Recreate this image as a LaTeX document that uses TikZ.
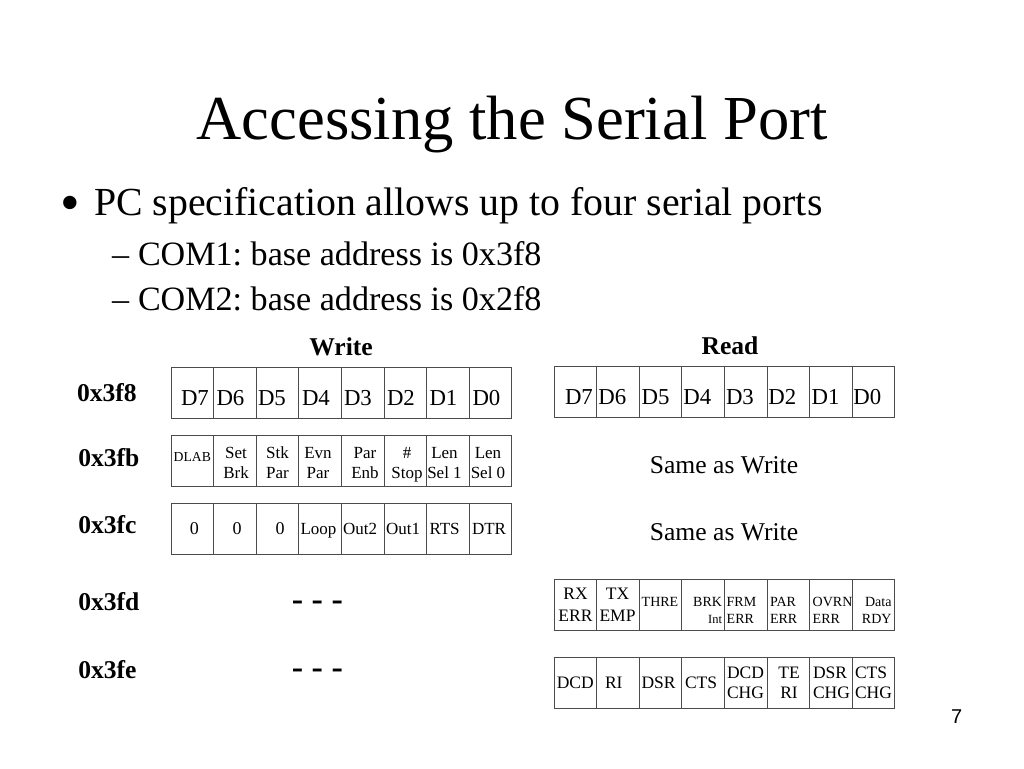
\documentclass[tikz,border=0pt]{standalone}
\usepackage{fontspec}
\setmainfont{Liberation Serif}
\newfontfamily\sansf{Liberation Sans}
\frenchspacing
\newcommand\TwoC[2]{\vtop{\halign{\hfil##\hfil\cr#1\cr#2\cr}}}
\newcommand\TwoL[2]{\vtop{\halign{##\hfil\cr#1\cr#2\cr}}}
\newcommand\TwoR[2]{\vtop{\halign{\hfil##\cr#1\cr#2\cr}}}
\begin{document}
\begin{tikzpicture}[x=1pt,y=-1pt,
  cell/.style={draw=black!70,line width=1pt,minimum width=42.6pt,minimum height=51pt,inner sep=0pt,outer sep=0pt,anchor=north west},
  txt/.style={inner sep=0pt,outer sep=0pt},
  title/.style={txt,anchor=base,font=\fontsize{62.6}{70}\selectfont},
  lvl1/.style={txt,anchor=base west,font=\fontsize{39.8}{44}\selectfont},
  lvl2/.style={txt,anchor=base west,font=\fontsize{34.1}{38}\selectfont},
  hdr/.style={txt,anchor=base,font=\fontsize{25.6}{30}\selectfont\bfseries},
  addr/.style={txt,anchor=base west,font=\fontsize{25.6}{30}\selectfont\bfseries},
  dots/.style={txt,anchor=base,font=\fontsize{34}{38}\selectfont\bfseries},
  same/.style={txt,anchor=base,font=\fontsize{25.6}{30}\selectfont},
  dbit/.style={txt,anchor=base west,font=\fontsize{22.8}{26}\selectfont},
  mid/.style={txt,font=\fontsize{17}{20}\selectfont},
  sml/.style={txt,font=\fontsize{14}{16.6}\selectfont},
]
\useasboundingbox[fill=white] (0,0) rectangle (1024,768);

% title and bullets
\node[title] (title) at (512,139) {Accessing the Serial Port};
\node[txt,anchor=base west,font=\fontsize{56}{60}\selectfont] (b1) at (60.5,221) {•};
\node[lvl1] (t1) at (94,215) {PC specification allows up to four serial ports};
\node[lvl2] (d2) at (112,265) {–};
\node[lvl2] (t2) at (138,265) {COM1: base address is 0x3f8};
\node[lvl2] (d3) at (112,310) {–};
\node[lvl2] (t3) at (138,310) {COM2: base address is 0x2f8};

% headers and addresses
\node[hdr] (write) at (341,355) {Write};
\node[hdr] (read) at (730,354) {Read};
\node[addr] (a8) at (77,401.7) {0x3f8};
\node[addr] (ab) at (78.3,466.7) {0x3fb};
\node[addr] (ac) at (78.3,533.3) {0x3fc};
\node[addr] (ad) at (78.3,610.7) {0x3fd};
\node[addr] (ae) at (78.3,678.3) {0x3fe};

% cells
\foreach \i in {0,...,7} {
  \node[cell] (wa\i) at ({171+42.6*\i},367) {};
  \node[cell] (wb\i) at ({171+42.6*\i},435) {};
  \node[cell] (wc\i) at ({171+42.6*\i},503) {};
  \node[cell] (ra\i) at ({554+42.6*\i},366.5) {};
  \node[cell] (rd\i) at ({554+42.6*\i},579.5) {};
  \node[cell] (re\i) at ({554+42.6*\i},657) {};
}

% write 0x3f8
\node[dbit] (wat0) at (181,405) {D7};
\node[dbit] (wat1) at (216.5,405) {D6};
\node[dbit] (wat2) at (258,405) {D5};
\node[dbit] (wat3) at (302,405) {D4};
\node[dbit] (wat4) at (344,405) {D3};
\node[dbit] (wat5) at (387,405) {D2};
\node[dbit] (wat6) at (429.5,405) {D1};
\node[dbit] (wat7) at (472.5,405) {D0};

% write 0x3fb
\node[txt,anchor=base,font=\fontsize{13.7}{16}\selectfont] (wbt0) at (192.3,461.7) {DLAB};
\node[mid,anchor=base] (wbt1) at (236,458.3) {\TwoC{Set}{Brk}};
\node[mid,anchor=base] (wbt2) at (277.5,458.3) {\TwoC{Stk}{Par}};
\node[mid,anchor=base] (wbt3) at (318,458.3) {\TwoC{Evn}{Par}};
\node[mid,anchor=base] (wbt4) at (365,458.3) {\TwoC{Par}{Enb}};
\node[mid,anchor=base] (wbt5) at (407,458.3) {\TwoC{\#}{Stop}};
\node[mid,anchor=base] (wbt6) at (444.5,458.3) {\TwoC{Len}{Sel 1}};
\node[mid,anchor=base] (wbt7) at (488,458.3) {\TwoC{Len}{Sel 0}};

% write 0x3fc
\node[txt,anchor=base,font=\fontsize{18}{20}\selectfont] (wct0) at (194.3,534.5) {0};
\node[txt,anchor=base,font=\fontsize{18}{20}\selectfont] (wct1) at (237,534.5) {0};
\node[txt,anchor=base,font=\fontsize{18}{20}\selectfont] (wct2) at (280,534.5) {0};
\node[mid,anchor=base west] (wct3) at (300.5,534.5) {Loop};
\node[mid,anchor=base west] (wct4) at (343,534.5) {Out2};
\node[mid,anchor=base west] (wct5) at (386,534.5) {Out1};
\node[mid,anchor=base west] (wct6) at (429.5,534.5) {RTS};
\node[mid,anchor=base west] (wct7) at (472,534.5) {DTR};

% read 0x3f8
\node[dbit] (rat0) at (565,404.5) {D7};
\node[dbit] (rat1) at (598.3,404.5) {D6};
\node[dbit] (rat2) at (641.7,404.5) {D5};
\node[dbit] (rat3) at (683.3,404.5) {D4};
\node[dbit] (rat4) at (726,404.5) {D3};
\node[dbit] (rat5) at (768.3,404.5) {D2};
\node[dbit] (rat6) at (811.7,404.5) {D1};
\node[dbit] (rat7) at (853.3,404.5) {D0};

\node[same] (same1) at (724,473.3) {Same as Write};
\node[same] (same2) at (724,540.5) {Same as Write};

% write - - -
\node[dots] (dash1) at (317.4,610) {- - -};
\node[dots] (dash2) at (317.4,678) {- - -};

% read 0x3fd
\node[txt,anchor=base,font=\fontsize{17.5}{22}\selectfont] (rdt0) at (575.5,599) {\TwoC{RX}{ERR}};
\node[txt,anchor=base,font=\fontsize{17.5}{22}\selectfont] (rdt1) at (617.5,599) {\TwoC{TX}{EMP}};
\node[sml,anchor=base] (rdt2) at (660,606.7) {THRE};
\node[sml,anchor=base east] (rdt3) at (722,606.7) {\TwoR{BRK}{\fontsize{12.5}{14}\selectfont Int}};
\node[sml,anchor=base west] (rdt4) at (726.7,606.7) {\TwoL{FRM}{ERR}};
\node[sml,anchor=base west] (rdt5) at (770,606.7) {\TwoL{PAR}{ERR}};
\node[sml,anchor=base west] (rdt6) at (812.7,606.7) {\TwoL{OVRN}{ERR}};
\node[sml,anchor=base east] (rdt7) at (891.5,606.7) {\TwoR{Data}{RDY}};

% read 0x3fe
\node[txt,anchor=base,font=\fontsize{17.5}{20}\selectfont] (ret0) at (575.3,688.5) {DCD};
\node[txt,anchor=base west,font=\fontsize{17.5}{20}\selectfont] (ret1) at (605,688.5) {RI};
\node[txt,anchor=base west,font=\fontsize{17.5}{20}\selectfont] (ret2) at (641.5,688.5) {DSR};
\node[txt,anchor=base west,font=\fontsize{17.5}{20}\selectfont] (ret3) at (685,688.5) {CTS};
\node[txt,anchor=base west,font=\fontsize{17.5}{20}\selectfont] (ret4) at (727,678.5) {\TwoL{DCD}{CHG}};
\node[txt,anchor=base,font=\fontsize{17.5}{20}\selectfont] (ret5) at (789,678.5) {\TwoC{TE}{RI}};
\node[txt,anchor=base west,font=\fontsize{17.5}{20}\selectfont] (ret6) at (813,678.5) {\TwoL{DSR}{CHG}};
\node[txt,anchor=base west,font=\fontsize{17.5}{20}\selectfont] (ret7) at (855,678.5) {\TwoL{CTS}{CHG}};

% page number
\node[txt,anchor=base,font=\fontsize{20}{24}\sansf] (pg) at (956.7,723.3) {7};
\end{tikzpicture}
\end{document}
